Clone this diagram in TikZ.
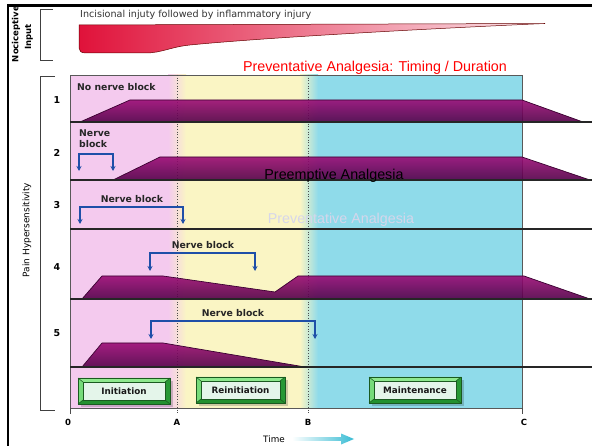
\documentclass[tikz,border=0pt]{standalone}
\usepackage{fontspec}
\setmainfont{DejaVu Sans}
\newfontfamily\titlefont{Liberation Sans}
\usetikzlibrary{arrows.meta}
\definecolor{pinkbg}{HTML}{F4CAEE}
\definecolor{yellowbg}{HTML}{FAF5C4}
\definecolor{cyanbg}{HTML}{8FDBEA}
\definecolor{barTop}{HTML}{9A0A74}
\definecolor{barBot}{HTML}{520048}
\definecolor{barLine}{HTML}{3A0030}
\definecolor{nbblue}{HTML}{1E4FA8}
\definecolor{boxgreen}{HTML}{3DBB4C}
\definecolor{boxlight}{HTML}{8EE88E}
\definecolor{boxdark}{HTML}{23902F}
\definecolor{boxline}{HTML}{1A5A20}
\definecolor{boxin}{HTML}{E4F5EA}
\definecolor{redL}{HTML}{E0123A}
\definecolor{redM}{HTML}{EE4468}
\definecolor{redR}{HTML}{FBE8EC}
\definecolor{timecyan}{HTML}{38BCD4}
\definecolor{faint}{HTML}{D6D6EA}
\newcommand\phbox[6]{%
  \fill[black,opacity=0.18] (#2+3,#3+3) rectangle (#4+3,#5+3);
  \fill[boxgreen] (#2,#3) rectangle (#4,#5);
  \fill[boxlight] (#2,#3) -- (#4,#3) -- (#4-5,#3+4) -- (#2+5,#3+4) -- cycle;
  \fill[boxlight!70!boxgreen] (#2,#3) -- (#2+5,#3+4) -- (#2+5,#5-4) -- (#2,#5) -- cycle;
  \fill[boxdark] (#2,#5) -- (#4,#5) -- (#4-5,#5-4) -- (#2+5,#5-4) -- cycle;
  \fill[boxdark!80!boxgreen] (#4,#3) -- (#4,#5) -- (#4-5,#5-4) -- (#4-5,#3+4) -- cycle;
  \fill[boxin] (#2+5,#3+4) rectangle (#4-5,#5-4);
  \draw[boxline,line width=0.8pt] (#2,#3) rectangle (#4,#5);
  \draw[boxline,line width=0.6pt] (#2+5,#3+4) rectangle (#4-5,#5-4);
  \draw[boxline,line width=0.5pt] (#2,#3) -- (#2+5,#3+4) (#4,#3) -- (#4-5,#3+4)
        (#2,#5) -- (#2+5,#5-4) (#4,#5) -- (#4-5,#5-4);
  \node[boxtxt] (#1) at ({(#2+#4)/2},{(#3+#5)/2}) {#6};
}
\begin{document}
\begin{tikzpicture}[x=1pt,y=-1pt,
  lbl/.style={font=\bfseries\fontsize{9.3}{11}\selectfont, inner sep=0pt, text=black!85},
  rownum/.style={font=\bfseries\fontsize{9.5}{11}\selectfont, inner sep=0pt},
  axlbl/.style={font=\bfseries\fontsize{8.5}{10}\selectfont, inner sep=0pt},
  boxtxt/.style={font=\bfseries\fontsize{8.8}{10}\selectfont, inner sep=0pt, text=black!90},
  bigtxt/.style={font=\titlefont\fontsize{14.3}{16}\selectfont, inner sep=0pt},
  bar/.style={top color=barTop, bottom color=barBot, fill opacity=0.9, draw=barLine, line width=0.7pt},
  nb/.style={draw=nbblue, line width=1.1pt, {Stealth[length=5pt,width=5pt]}-{Stealth[length=5pt,width=5pt]}},
  baseln/.style={draw=black!85, line width=1.1pt},
  brk/.style={draw=black!75, line width=0.8pt},
  ddot/.style={draw=black!70, dotted, line width=0.7pt}]
\useasboundingbox (0,0) rectangle (592,446);
\fill[white] (0,0) rectangle (592,446);

% ---------- nociceptive input ----------
\draw[brk] (53,9) -- (40,9) -- (40,60) -- (53,60);
\node[font=\bfseries\fontsize{8.5}{10}\selectfont, rotate=90, inner sep=0pt] (noci) at (16,34) {Nociceptive};
\node[font=\bfseries\fontsize{8.5}{10}\selectfont, rotate=90, inner sep=0pt] (inp) at (29,37) {Input};
\node[font=\fontsize{9.6}{11}\selectfont, anchor=west, inner sep=0pt, text=black!80] (inc) at (80,15) {Incisional injuty followed by inflammatory injury};
\shadedraw[left color=redL, middle color=redM, right color=redR, draw=black!60!red, line width=0.5pt]
  (79,25) -- (545,23.5) .. controls (420,29) and (260,38) .. (190,45)
  .. controls (170,47) and (162,53) .. (145,53) -- (86,53)
  .. controls (81,53) and (79,51) .. (79,48) -- cycle;

% ---------- panel background ----------
\fill[pinkbg] (70,75) rectangle (177,408);
\fill[yellowbg] (177,75) rectangle (308,408);
\fill[cyanbg] (308,75) rectangle (522,408);
\shade[left color=pinkbg, right color=yellowbg] (168,75) rectangle (186,408);
\shade[left color=yellowbg, right color=cyanbg] (300,75) rectangle (318,408);
\draw[black!65, line width=0.8pt] (70,75) rectangle (522,408);
\draw[ddot] (177,75) -- (177,413);
\draw[ddot] (308,75) -- (308,413);
\draw[black!70, line width=0.8pt] (522,408) -- (522,414);
\draw[black!70, line width=0.8pt] (70,408) -- (70,414);

% ---------- bars ----------
\path[bar] (80,122) -- (130,100) -- (522,100) -- (583,122) -- cycle;
\path[bar] (113,180) -- (160,157) -- (522,157) -- (590,180) -- cycle;
\path[bar] (82,299) -- (102,276) -- (163,276) -- (275,292) -- (298,276) -- (524,276) -- (590,299) -- cycle;
\path[bar] (82,367) -- (102,343) -- (163,343) -- (305,367) -- cycle;

% ---------- baselines ----------
\foreach \yy in {122,180,229,299,367} \draw[baseln] (70,\yy) -- (592,\yy);

% ---------- main bracket and labels ----------
\draw[brk] (55,76) -- (40,76) -- (40,410) -- (55,410);
\node[font=\fontsize{9}{10}\selectfont, rotate=90, inner sep=0pt] (ph) at (27,230) {Pain Hypersensitivity};
\node[rownum] (r1) at (57,100) {1};
\node[rownum] (r2) at (57,153) {2};
\node[rownum] (r3) at (57,205) {3};
\node[rownum] (r4) at (57,267) {4};
\node[rownum] (r5) at (57,333) {5};

% ---------- nerve blocks ----------
\node[lbl, anchor=west] (nb1) at (77,87) {No nerve block};
\node[lbl, align=left, anchor=north west, font=\bfseries\fontsize{9.3}{10.2}\selectfont] (nb2) at (79,130) {Nerve\\block};
\coordinate (a2) at (79,171); \coordinate (b2) at (113,171);
\draw[nb] (a2) -- ++(0,-17) -| (b2);
\node[lbl] (nb3) at (132,199) {Nerve block};
\coordinate (a3) at (80,224); \coordinate (b3) at (183,224);
\draw[nb] (a3) -- ++(0,-17) -| (b3);
\node[lbl] (nb4) at (203,245) {Nerve block};
\coordinate (a4) at (150,271); \coordinate (b4) at (255,271);
\draw[nb] (a4) -- ++(0,-18) -| (b4);
\node[lbl] (nb5) at (233,313) {Nerve block};
\coordinate (a5) at (151,339); \coordinate (b5) at (315,339);
\draw[nb] (a5) -- ++(0,-18) -| (b5);

% ---------- overlay texts ----------
\node[bigtxt, text=red] (title) at (375,68) {Preventative Analgesia: Timing / Duration};
\node[bigtxt, text=black] (pre) at (334,176) {Preemptive Analgesia};
\node[bigtxt, text=faint] (prev) at (341,220) {Preventative Analgesia};

% ---------- phase boxes ----------
\phbox{ini}{78}{378}{170}{404}{Initiation}
\phbox{rei}{196}{377}{285}{403}{Reinitiation}
\phbox{mai}{369}{377}{461}{403}{Maintenance}

% ---------- time axis ----------
\node[axlbl] (t0) at (68,422) {0};
\node[axlbl] (tA) at (177,422) {A};
\node[axlbl] (tB) at (308,422) {B};
\node[axlbl] (tC) at (524,422) {C};
\node[font=\fontsize{8.8}{10}\selectfont, inner sep=0pt] (time) at (274,439) {Time};
\coordinate (ta) at (292,439);
\shade[left color=white, right color=timecyan]
  (ta) ++(0,-1.8) -- ++(49,0) -- ++(0,-3.7) -- ++(13,5.5) -- ++(-13,5.5) -- ++(0,-3.7) -- ++(-49,0) -- cycle;

% ---------- frame ----------
\draw[black, line width=2.2pt] (8,446) -- (8,5.5) -- (592,5.5);
\end{tikzpicture}
\end{document}
